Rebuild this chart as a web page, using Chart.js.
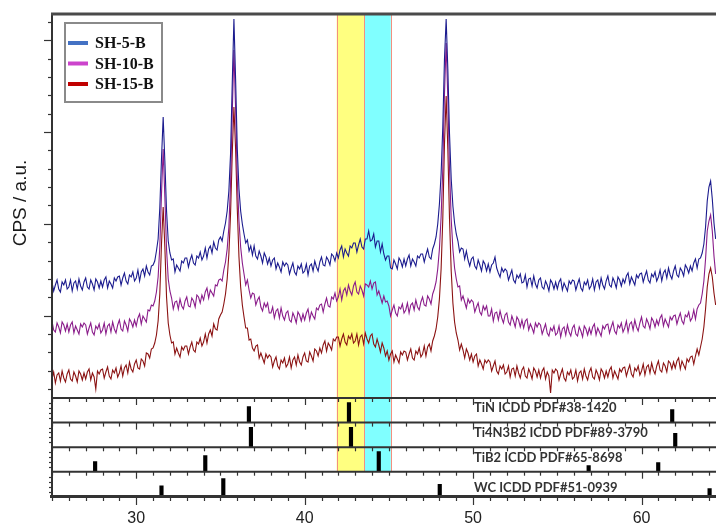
<!DOCTYPE html>
<html>
<head>
<meta charset="utf-8">
<script src="https://cdn.jsdelivr.net/npm/chart.js@4.4.0/dist/chart.umd.min.js"></script>
<style>
  html, body { margin: 0; padding: 0; background: #fff; }
  #wrap { width: 716px; height: 525px; }
</style>
</head>
<body>
<div id="wrap"><canvas id="xrd" width="716" height="525"></canvas></div>
<script>
// 2-theta scan positions (deg), one row = 1 deg
const twoTheta = [
  25.0, 25.1, 25.2, 25.3, 25.4, 25.5, 25.6, 25.7, 25.8, 25.9,
  26.0, 26.1, 26.2, 26.3, 26.4, 26.5, 26.6, 26.7, 26.8, 26.9,
  27.0, 27.1, 27.2, 27.3, 27.4, 27.5, 27.6, 27.7, 27.8, 27.9,
  28.0, 28.1, 28.2, 28.3, 28.4, 28.5, 28.6, 28.7, 28.8, 28.9,
  29.0, 29.1, 29.2, 29.3, 29.4, 29.5, 29.6, 29.7, 29.8, 29.9,
  30.0, 30.1, 30.2, 30.3, 30.4, 30.5, 30.6, 30.7, 30.8, 30.9,
  31.0, 31.1, 31.2, 31.3, 31.4, 31.5, 31.6, 31.7, 31.8, 31.9,
  32.0, 32.1, 32.2, 32.3, 32.4, 32.5, 32.6, 32.7, 32.8, 32.9,
  33.0, 33.1, 33.2, 33.3, 33.4, 33.5, 33.6, 33.7, 33.8, 33.9,
  34.0, 34.1, 34.2, 34.3, 34.4, 34.5, 34.6, 34.7, 34.8, 34.9,
  35.0, 35.1, 35.2, 35.3, 35.4, 35.5, 35.6, 35.7, 35.8, 35.9,
  36.0, 36.1, 36.2, 36.3, 36.4, 36.5, 36.6, 36.7, 36.8, 36.9,
  37.0, 37.1, 37.2, 37.3, 37.4, 37.5, 37.6, 37.7, 37.8, 37.9,
  38.0, 38.1, 38.2, 38.3, 38.4, 38.5, 38.6, 38.7, 38.8, 38.9,
  39.0, 39.1, 39.2, 39.3, 39.4, 39.5, 39.6, 39.7, 39.8, 39.9,
  40.0, 40.1, 40.2, 40.3, 40.4, 40.5, 40.6, 40.7, 40.8, 40.9,
  41.0, 41.1, 41.2, 41.3, 41.4, 41.5, 41.6, 41.7, 41.8, 41.9,
  42.0, 42.1, 42.2, 42.3, 42.4, 42.5, 42.6, 42.7, 42.8, 42.9,
  43.0, 43.1, 43.2, 43.3, 43.4, 43.5, 43.6, 43.7, 43.8, 43.9,
  44.0, 44.1, 44.2, 44.3, 44.4, 44.5, 44.6, 44.7, 44.8, 44.9,
  45.0, 45.1, 45.2, 45.3, 45.4, 45.5, 45.6, 45.7, 45.8, 45.9,
  46.0, 46.1, 46.2, 46.3, 46.4, 46.5, 46.6, 46.7, 46.8, 46.9,
  47.0, 47.1, 47.2, 47.3, 47.4, 47.5, 47.6, 47.7, 47.8, 47.9,
  48.0, 48.1, 48.2, 48.3, 48.4, 48.5, 48.6, 48.7, 48.8, 48.9,
  49.0, 49.1, 49.2, 49.3, 49.4, 49.5, 49.6, 49.7, 49.8, 49.9,
  50.0, 50.1, 50.2, 50.3, 50.4, 50.5, 50.6, 50.7, 50.8, 50.9,
  51.0, 51.1, 51.2, 51.3, 51.4, 51.5, 51.6, 51.7, 51.8, 51.9,
  52.0, 52.1, 52.2, 52.3, 52.4, 52.5, 52.6, 52.7, 52.8, 52.9,
  53.0, 53.1, 53.2, 53.3, 53.4, 53.5, 53.6, 53.7, 53.8, 53.9,
  54.0, 54.1, 54.2, 54.3, 54.4, 54.5, 54.6, 54.7, 54.8, 54.9,
  55.0, 55.1, 55.2, 55.3, 55.4, 55.5, 55.6, 55.7, 55.8, 55.9,
  56.0, 56.1, 56.2, 56.3, 56.4, 56.5, 56.6, 56.7, 56.8, 56.9,
  57.0, 57.1, 57.2, 57.3, 57.4, 57.5, 57.6, 57.7, 57.8, 57.9,
  58.0, 58.1, 58.2, 58.3, 58.4, 58.5, 58.6, 58.7, 58.8, 58.9,
  59.0, 59.1, 59.2, 59.3, 59.4, 59.5, 59.6, 59.7, 59.8, 59.9,
  60.0, 60.1, 60.2, 60.3, 60.4, 60.5, 60.6, 60.7, 60.8, 60.9,
  61.0, 61.1, 61.2, 61.3, 61.4, 61.5, 61.6, 61.7, 61.8, 61.9,
  62.0, 62.1, 62.2, 62.3, 62.4, 62.5, 62.6, 62.7, 62.8, 62.9,
  63.0, 63.1, 63.2, 63.3, 63.4, 63.5, 63.6, 63.7, 63.8, 63.9,
  64.0, 64.1, 64.2, 64.3, 64.4
];

// intensities (a.u., each sample offset as plotted)
const sh5B = [
  107, 98, 104, 109, 100, 97, 107, 104, 109, 100,
  102, 109, 98, 106, 108, 100, 110, 103, 99, 107,
  111, 102, 100, 109, 105, 99, 110, 107, 101, 108,
  102, 109, 112, 101, 108, 105, 101, 111, 108, 112,
  113, 104, 111, 116, 108, 105, 114, 112, 117, 108,
  111, 119, 108, 117, 120, 113, 123, 117, 114, 123,
  124, 128, 138, 150, 181, 230, 272, 228, 178, 148,
  136, 129, 130, 117, 124, 121, 118, 128, 126, 131,
  131, 122, 129, 134, 126, 124, 133, 131, 137, 129,
  133, 141, 131, 140, 143, 136, 147, 141, 139, 149,
  152, 148, 158, 166, 178, 198, 235, 305, 370, 310,
  240, 200, 178, 165, 155, 146, 149, 138, 143, 134,
  143, 133, 130, 138, 133, 126, 136, 132, 125, 131,
  123, 129, 131, 120, 126, 122, 117, 127, 123, 126,
  124, 115, 121, 126, 117, 114, 123, 120, 125, 116,
  118, 125, 114, 123, 125, 118, 128, 122, 118, 127,
  132, 124, 123, 132, 129, 124, 135, 133, 128, 136,
  131, 139, 143, 132, 140, 136, 133, 143, 141, 146,
  146, 137, 144, 150, 142, 140, 150, 150, 158, 148,
  149, 155, 142, 148, 148, 137, 145, 135, 129, 133,
  133, 121, 120, 129, 125, 120, 131, 128, 122, 130,
  123, 130, 134, 123, 130, 127, 123, 133, 131, 135,
  135, 127, 134, 140, 132, 130, 140, 145, 152, 165,
  185, 215, 262, 330, 370, 320, 255, 210, 183, 166,
  155, 148, 137, 141, 140, 130, 138, 129, 123, 130,
  132, 123, 120, 129, 124, 118, 128, 125, 118, 125,
  117, 124, 126, 132, 121, 116, 112, 121, 117, 120,
  118, 109, 114, 119, 109, 106, 114, 111, 115, 106,
  107, 114, 102, 110, 111, 103, 113, 105, 101, 109,
  111, 102, 100, 108, 104, 98, 109, 106, 100, 107,
  100, 107, 110, 99, 106, 102, 98, 108, 105, 109,
  108, 99, 105, 110, 101, 98, 107, 104, 109, 100,
  103, 110, 99, 107, 109, 101, 111, 104, 100, 108,
  113, 104, 102, 111, 107, 101, 112, 109, 103, 110,
  106, 113, 116, 105, 112, 108, 104, 114, 111, 115,
  116, 107, 113, 118, 109, 106, 115, 112, 117, 108,
  112, 119, 108, 116, 119, 111, 121, 114, 110, 118,
  123, 114, 112, 121, 118, 113, 124, 121, 116, 123,
  118, 126, 130, 121, 130, 131, 136, 145, 162, 188,
  202, 208, 190, 166, 150
];
const sh10B = [
  68, 59, 57, 66, 62, 56, 67, 64, 58, 65,
  57, 64, 67, 56, 63, 59, 55, 65, 62, 66,
  64, 55, 61, 66, 57, 54, 63, 60, 65, 56,
  59, 66, 55, 63, 65, 57, 67, 60, 56, 64,
  69, 60, 58, 68, 64, 58, 70, 67, 62, 69,
  63, 71, 75, 65, 73, 70, 67, 79, 78, 84,
  83, 88, 97, 112, 142, 195, 240, 192, 140, 110,
  98, 91, 80, 87, 88, 80, 90, 83, 80, 88,
  92, 83, 82, 91, 88, 82, 94, 92, 86, 94,
  89, 97, 101, 91, 99, 96, 93, 104, 103, 109,
  110, 108, 119, 127, 140, 162, 205, 275, 339, 280,
  210, 168, 142, 126, 115, 104, 109, 99, 91, 96,
  95, 84, 89, 92, 82, 78, 86, 82, 86, 76,
  76, 82, 71, 78, 80, 71, 81, 73, 69, 76,
  78, 69, 67, 76, 72, 66, 77, 74, 68, 75,
  69, 76, 80, 69, 77, 73, 70, 81, 79, 84,
  85, 77, 85, 91, 83, 82, 92, 90, 96, 88,
  92, 100, 89, 98, 101, 94, 104, 98, 94, 103,
  107, 97, 95, 103, 99, 93, 105, 104, 102, 108,
  100, 106, 107, 94, 98, 92, 86, 93, 87, 88,
  83, 73, 79, 84, 76, 73, 82, 80, 85, 76,
  79, 86, 76, 84, 86, 79, 89, 82, 79, 87,
  92, 84, 83, 93, 90, 85, 95, 100, 107, 120,
  140, 172, 220, 295, 346, 290, 220, 170, 140, 121,
  110, 102, 103, 89, 93, 87, 81, 90, 86, 89,
  87, 77, 82, 86, 77, 74, 83, 79, 83, 73,
  73, 80, 68, 76, 77, 69, 78, 71, 66, 74,
  76, 67, 64, 73, 68, 62, 72, 69, 62, 69,
  61, 68, 70, 59, 65, 61, 56, 66, 62, 66,
  64, 55, 60, 65, 56, 53, 61, 58, 63, 54,
  56, 63, 52, 60, 62, 54, 64, 57, 53, 61,
  64, 55, 53, 62, 58, 52, 63, 60, 54, 61,
  55, 62, 65, 54, 61, 57, 53, 63, 60, 64,
  65, 56, 62, 67, 58, 55, 64, 61, 66, 57,
  61, 68, 57, 65, 67, 59, 69, 62, 58, 66,
  72, 63, 61, 70, 66, 60, 71, 68, 62, 69,
  64, 71, 74, 63, 70, 66, 62, 72, 69, 73,
  74, 65, 71, 76, 68, 65, 74, 72, 77, 68,
  71, 79, 70, 80, 84, 86, 95, 108, 130, 158,
  168, 174, 158, 133, 115
];
const sh15B = [
  10, 17, 6, 14, 16, 8, 18, 11, 7, 15,
  19, 10, 8, 17, 13, 7, 18, 15, 9, 16,
  10, 17, 20, 9, 16, 12, 0, 18, 15, 19,
  20, 11, 17, 22, 13, 10, 19, 16, 21, 12,
  16, 23, 13, 21, 24, 16, 27, 20, 17, 25,
  29, 21, 20, 30, 28, 23, 36, 35, 31, 40,
  41, 46, 54, 68, 95, 145, 182, 142, 92, 66,
  54, 46, 47, 35, 41, 36, 32, 42, 39, 43,
  43, 35, 42, 47, 39, 37, 47, 45, 51, 43,
  47, 55, 46, 55, 59, 53, 65, 60, 59, 70,
  74, 77, 85, 95, 110, 135, 175, 235, 282, 240,
  180, 132, 102, 84, 72, 61, 61, 49, 50, 41,
  38, 43, 44, 31, 36, 31, 26, 35, 31, 34,
  32, 22, 28, 32, 23, 20, 29, 26, 31, 22,
  25, 32, 21, 29, 32, 24, 34, 27, 24, 32,
  36, 28, 27, 37, 33, 28, 40, 38, 33, 41,
  36, 44, 48, 38, 46, 43, 39, 50, 48, 52,
  52, 43, 50, 55, 47, 44, 53, 50, 55, 46,
  48, 55, 44, 52, 54, 45, 56, 50, 46, 53,
  55, 45, 42, 50, 44, 37, 46, 41, 33, 38,
  29, 35, 38, 27, 34, 30, 26, 37, 34, 38,
  37, 29, 35, 40, 31, 29, 38, 35, 41, 32,
  35, 43, 33, 42, 45, 38, 48, 53, 60, 72,
  90, 120, 170, 245, 293, 240, 170, 118, 86, 67,
  56, 49, 39, 45, 39, 31, 40, 36, 29, 35,
  27, 33, 35, 23, 29, 25, 20, 29, 26, 29,
  27, 18, 23, 28, 18, 15, 23, 20, 24, 15,
  17, 23, 12, 20, 21, 13, 23, 16, 11, 19,
  22, 13, 11, 20, 16, 10, 21, 18, 12, 19,
  11, 18, 21, 10, 17, 13, -4, 19, 16, 20,
  18, 9, 15, 20, 11, 8, 17, 14, 19, 10,
  12, 19, 8, 16, 18, 10, 20, 13, 9, 17,
  21, 12, 10, 19, 15, 9, 20, 17, 11, 18,
  12, 19, 22, 11, 18, 14, 10, 20, 17, 21,
  22, 13, 19, 24, 15, 12, 21, 18, 23, 14,
  18, 25, 14, 22, 24, 16, 26, 19, 15, 23,
  28, 19, 17, 26, 23, 17, 28, 26, 20, 27,
  21, 28, 31, 20, 28, 24, 20, 30, 27, 32,
  33, 25, 33, 40, 34, 42, 50, 62, 80, 102,
  115, 121, 112, 96, 84
];
const sampleNames = ['SH-5-B', 'SH-10-B', 'SH-15-B'];

// reference patterns: peak position (deg) and relative intensity
const refNames = ['TiN ICDD PDF#38-1420', 'Ti4N3B2 ICDD PDF#89-3790', 'TiB2 ICDD PDF#65-8698', 'WC ICDD PDF#51-0939'];
const tinPos = [36.69, 42.63, 61.82];
const tinInt = [80, 100, 65];
const ti4n3b2Pos = [36.81, 42.75, 62.00];
const ti4n3b2Int = [100, 100, 70];
const tib2Pos = [27.56, 34.10, 44.40, 56.86, 60.99];
const tib2Int = [50, 80, 100, 30, 45];
const wcPos = [31.50, 35.17, 48.02, 64.04];
const wcInt = [54, 90, 62, 40];

// highlighted 2-theta windows (yellow | cyan)
const bandEdges = [41.90, 43.52, 45.11];
const xTickLabels = [30, 40, 50, 60];

// layout of the stacked panels in y units
const MAIN_FLOOR = -9;
const PANEL_FLOORS = [-33.6, -58.3, -82.7, -107.7];
const STICK_SCALE = 0.2;
const LEFT_TICK_STEP = 18.35;
const refLabelY = [408, 433, 458, 488];

const lineColors = ['#1b1b8e', '#8a1c8a', '#8b1212'];
const legendColors = ['#4472c4', '#cc44cc', '#c00000'];

function sample(i, values) {
  return {
    type: 'line',
    label: sampleNames[i],
    legendColor: legendColors[i],
    data: twoTheta.map((t, k) => ({ x: t, y: values[k] })),
    borderColor: lineColors[i],
    borderWidth: 1.1,
    pointRadius: 0,
    tension: 0
  };
}

function sticks(i, pos, inten) {
  const base = PANEL_FLOORS[i];
  return {
    type: 'bar',
    label: refNames[i],
    data: pos.map((p, k) => ({ x: p, y: [base, base + inten[k] * STICK_SCALE] })),
    backgroundColor: '#000',
    barThickness: 3.5,
    grouped: false,
    borderRadius: 1
  };
}

function hline(ctx, x1, x2, y) { ctx.beginPath(); ctx.moveTo(x1, y); ctx.lineTo(x2, y); ctx.stroke(); }
function vline(ctx, x, y1, y2) { ctx.beginPath(); ctx.moveTo(x, y1); ctx.lineTo(x, y2); ctx.stroke(); }

const decor = {
  id: 'decor',
  beforeDatasetsDraw(chart) {
    const { ctx, chartArea: a, scales: { x, y } } = chart;
    const bottom = y.getPixelForValue(PANEL_FLOORS[2]);
    const fills = ['#ffff80', '#80ffff'];
    ctx.save();
    for (let i = 0; i < bandEdges.length - 1; i++) {
      const l = x.getPixelForValue(bandEdges[i]);
      const r = x.getPixelForValue(bandEdges[i + 1]);
      ctx.fillStyle = fills[i];
      ctx.fillRect(l, a.top, r - l, bottom - a.top);
    }
    ctx.strokeStyle = '#f29080';
    ctx.lineWidth = 1;
    bandEdges.forEach(e => vline(ctx, Math.round(x.getPixelForValue(e)) + 0.5, a.top, bottom));
    ctx.restore();
  },
  afterDatasetsDraw(chart) {
    const { ctx, chartArea: a, scales: { x, y } } = chart;
    ctx.save();
    ctx.strokeStyle = '#333';

    // panel separators with their own 2-theta ticks
    const seps = [MAIN_FLOOR, PANEL_FLOORS[0], PANEL_FLOORS[1], PANEL_FLOORS[2]].map(v => y.getPixelForValue(v));
    ctx.lineWidth = 2;
    seps.forEach(py => hline(ctx, a.left, a.right, py));
    ctx.lineWidth = 1.2;
    for (let d = Math.ceil(x.min); d <= x.max; d++) {
      const px = Math.round(x.getPixelForValue(d)) + 0.5;
      const major = d % 10 === 0;
      seps.forEach(py => vline(ctx, px, py, py + (major ? 7 : 4)));
      vline(ctx, px, a.bottom, a.bottom + (major ? 8 : 4));
    }

    // bottom axis
    ctx.lineWidth = 3;
    hline(ctx, a.left - 2, a.right, a.bottom - 0.5);

    // left axis and its ticks
    ctx.lineWidth = 2;
    vline(ctx, a.left, a.top, a.bottom);
    ctx.lineWidth = 1.2;
    for (let k = 0; k * LEFT_TICK_STEP <= y.max; k++) {
      const py = Math.round(y.getPixelForValue(k * LEFT_TICK_STEP)) + 0.5;
      const major = k % 5 === 4;
      hline(ctx, a.left - (major ? 8 : 4), a.left, py);
    }
    const floors = [MAIN_FLOOR, ...PANEL_FLOORS];
    for (let p = 0; p < PANEL_FLOORS.length; p++) {
      const h = (floors[p] - floors[p + 1]) / 5;
      for (let k = 1; k < 5; k++) {
        const py = Math.round(y.getPixelForValue(floors[p + 1] + k * h)) + 0.5;
        hline(ctx, a.left - 3, a.left, py);
      }
    }

    // top frame
    ctx.strokeStyle = '#4a4a4a';
    ctx.lineWidth = 3;
    hline(ctx, a.left - 1, a.right, a.top);

    // reference pattern names
    ctx.fillStyle = '#333';
    ctx.font = 'bold 13px Lato';
    ctx.textAlign = 'left';
    ctx.textBaseline = 'middle';
    refNames.forEach((n, i) => ctx.fillText(n, 474, refLabelY[i]));

    // legend box
    const samples = chart.data.datasets.filter(d => d.legendColor);
    ctx.fillStyle = '#fff';
    ctx.fillRect(64, 22, 99, 81);
    ctx.strokeStyle = '#8a8a8a';
    ctx.lineWidth = 2;
    ctx.strokeRect(65, 23, 97, 79);
    ctx.font = 'bold 16px "Liberation Serif"';
    samples.forEach((d, i) => {
      const yy = 43 + i * 20.5;
      ctx.strokeStyle = d.legendColor;
      ctx.lineWidth = 4;
      hline(ctx, 68, 88, yy);
      ctx.fillStyle = '#111';
      ctx.fillText(d.label, 95, yy + 1);
    });

    // y title
    ctx.translate(21, 203);
    ctx.rotate(-Math.PI / 2);
    ctx.textAlign = 'center';
    ctx.fillStyle = '#1a1a1a';
    ctx.font = '19px "Liberation Sans"';
    ctx.fillText('CPS / a.u.', 0, 0);
    ctx.restore();
  }
};

new Chart(document.getElementById('xrd'), {
  type: 'line',
  data: {
    datasets: [
      sample(0, sh5B),
      sample(1, sh10B),
      sample(2, sh15B),
      sticks(0, tinPos, tinInt),
      sticks(1, ti4n3b2Pos, ti4n3b2Int),
      sticks(2, tib2Pos, tib2Int),
      sticks(3, wcPos, wcInt)
    ]
  },
  options: {
    responsive: false,
    devicePixelRatio: 1,
    animation: false,
    layout: { padding: { top: 14, right: 0, left: 0, bottom: 0 } },
    plugins: { legend: { display: false }, tooltip: { enabled: false } },
    scales: {
      x: {
        type: 'linear',
        min: 25,
        max: 64.42,
        offset: false,
        grid: { display: false, drawTicks: false, offset: false },
        border: { display: false },
        ticks: {
          stepSize: 10,
          includeBounds: false,
          autoSkip: false,
          maxRotation: 0,
          padding: 12,
          color: '#222',
          font: { family: 'Liberation Sans', size: 16 },
          callback: v => xTickLabels.includes(v) ? String(v) : ''
        },
        afterFit: s => { s.height = 28; }
      },
      y: {
        type: 'linear',
        min: -108,
        max: 375,
        grid: { display: false, drawTicks: false },
        border: { display: false },
        ticks: { display: false },
        afterFit: s => { s.width = 52; }
      }
    }
  },
  plugins: [decor]
});
</script>
</body>
</html>
